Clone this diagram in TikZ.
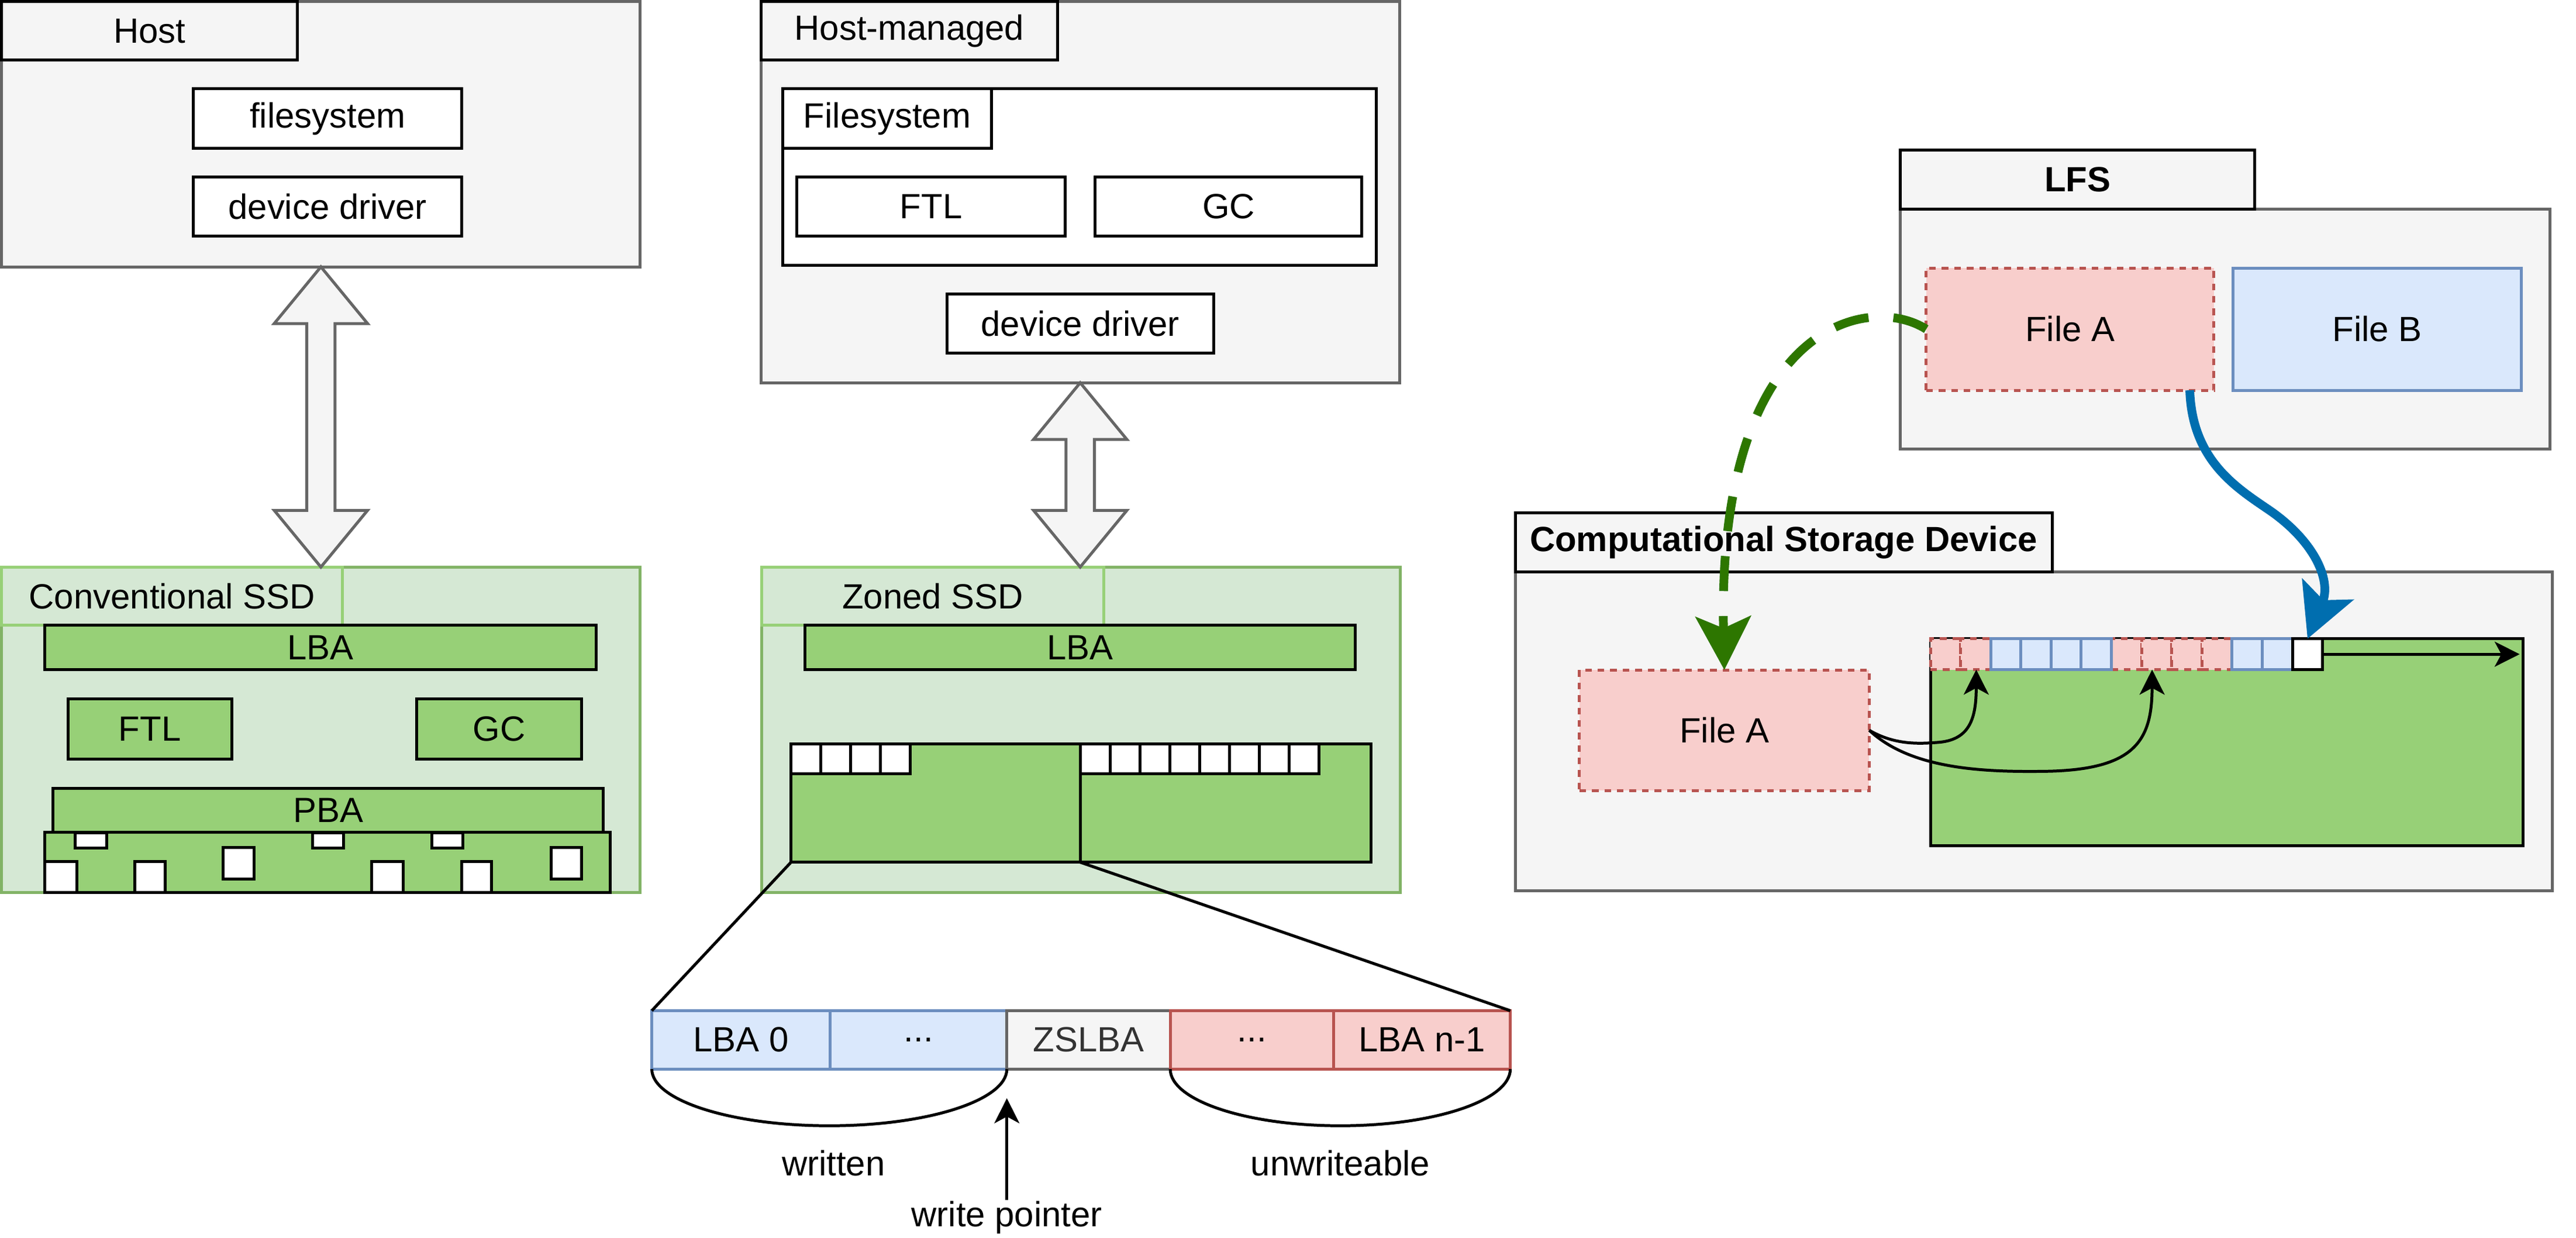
\documentclass[tikz,border=0pt]{standalone}
\usepackage{fontspec}
\setmainfont{Liberation Sans}
\usetikzlibrary{arrows.meta,calc}
\definecolor{grayF}{HTML}{F5F5F5}
\definecolor{grayS}{HTML}{666666}
\definecolor{gL}{HTML}{D5E8D4}
\definecolor{gS}{HTML}{82B366}
\definecolor{gB}{HTML}{97D077}
\definecolor{bF}{HTML}{DAE8FC}
\definecolor{bS}{HTML}{6C8EBF}
\definecolor{rF}{HTML}{F8CECC}
\definecolor{rS}{HTML}{B85450}
\definecolor{dgreen}{HTML}{2D7600}
\definecolor{dblue}{HTML}{006EAF}
\definecolor{txtg}{HTML}{333333}
\newcommand\mybox[7]{%
  \pgfmathsetmacro\mbw{#4-(#2)}%
  \pgfmathsetmacro\mbh{#5-(#3)}%
  \node[#6,anchor=north west,minimum width=\mbw pt,minimum height=\mbh pt,inner sep=0pt,outer sep=0pt] (#1) at (#2,#3) {#7};%
}
\newcommand\dblarrow[3]{%
  \draw[dblarr] (#1,#2) -- ++(28,34) -- ++(-19.5,0) -- (#1+8.5,#3-34) -- ++(19.5,0)
    -- (#1,#3) -- ++(-28,-34) -- ++(19.5,0) -- (#1-8.5,#2+34) -- ++(-19.5,0) -- cycle;}
\begin{document}
\begin{tikzpicture}[x=1pt,y=-1pt,line width=1.75pt,
  every node/.style={font=\fontsize{21}{25}\selectfont},
  graybox/.style={fill=grayF,draw=grayS},
  tabbox/.style={fill=grayF,draw=black},
  wbox/.style={fill=white,draw=black},
  gblock/.style={fill=gB,draw=black},
  ssdbox/.style={fill=gL,draw=gS},
  ssdtab/.style={fill=gL,draw=gB},
  bcell/.style={fill=bF,draw=bS},
  rcell/.style={fill=rF,draw=rS},
  rdash/.style={fill=rF,draw=rS,dash pattern=on 4pt off 3.5pt},
  dblarr/.style={fill=grayF,draw=grayS,line join=miter},
  conn/.style={draw=black,line width=1.75pt},
  sarrow/.style={-{Stealth[length=15pt,width=15pt,inset=4pt]}},
  bigtip/.style={-{Stealth[length=32pt,width=33pt,inset=7pt]},line width=5.25pt}
]
\useasboundingbox[fill=white] (0,0) rectangle (1545.3,742);

% ---------- Host ----------
\mybox{host}{1}{1}{384}{160}{graybox}{}
\mybox{hosttab}{1}{1}{178.5}{36}{tabbox}{Host}
\mybox{fs}{116}{53.3}{277}{89}{wbox}{filesystem}
\mybox{dd}{116}{106}{277}{141.6}{wbox}{device driver}

% ---------- Host-managed ----------
\mybox{hm}{456.5}{1}{839.5}{229.5}{graybox}{}
\mybox{hmtab}{456.5}{1}{634.5}{36}{tabbox}{Host-managed}
\mybox{fsc}{469.5}{53.3}{825.7}{159}{wbox}{}
\mybox{fstab}{469.5}{53.3}{594.8}{89}{wbox}{Filesystem}
\mybox{ftlh}{478}{106}{639}{141.6}{wbox}{FTL}
\mybox{gch}{657}{106}{817}{141.6}{wbox}{GC}
\mybox{dd2}{568}{176.3}{728}{211.8}{wbox}{device driver}

% ---------- Conventional SSD ----------
\mybox{conv}{1}{340}{384}{535}{ssdbox}{}
\mybox{convtab}{1}{340}{205.5}{375}{ssdtab}{Conventional SSD}
\mybox{lba1}{27}{375}{357.5}{401.5}{gblock}{LBA}
\mybox{ftl1}{40.75}{419}{139}{455}{gblock}{FTL}
\mybox{gc1}{250}{419}{349}{455}{gblock}{GC}
\mybox{pba}{31.75}{472.6}{362}{499}{gblock}{PBA}
\mybox{blk}{27}{499}{366}{535}{gblock}{}
\foreach \a/\b/\c/\d [count=\k] in {45/499.5/64/508.6,187.5/499.5/206/508.6,259/499.5/277.5/508.6,
  134/508/152.5/527,330.5/508/349/527,
  27/516.7/46/535,81/516.7/99/535,223/516.7/242/535,277/516.7/295/535}
  {\mybox{sq\k}{\a}{\b}{\c}{\d}{wbox}{}}

% ---------- Zoned SSD ----------
\mybox{zon}{457}{340}{840}{535}{ssdbox}{}
\mybox{zontab}{457}{340}{662}{375}{ssdtab}{Zoned SSD}
\mybox{lba2}{483}{375}{813}{401.5}{gblock}{LBA}
\mybox{zl}{474.5}{446}{648}{517}{gblock}{}
\mybox{zr}{648}{446}{822.5}{517}{gblock}{}
\foreach \i in {0,...,3}
  {\mybox{zc\i}{474.5+\i*17.9}{446}{492.4+\i*17.9}{464}{wbox}{}}
\foreach \i in {0,...,7}
  {\mybox{zd\i}{648+\i*17.9}{446}{665.9+\i*17.9}{464}{wbox}{}}

% ---------- zone LBA row ----------
\mybox{l0}{391}{606}{498}{641}{bcell}{LBA 0}
\mybox{l1}{498}{606}{604}{641}{bcell}{...}
\mybox{zs}{604}{606}{702}{641}{graybox,text=txtg}{ZSLBA}
\mybox{l3}{702}{606}{800}{641}{rcell}{...}
\mybox{ln}{800}{606}{906}{641}{rcell}{LBA n-1}
\draw[conn] (zl.south west) -- (l0.north west);
\draw[conn] (zl.south east) -- (ln.north east);
\coordinate (wb) at (497.5,675);
\coordinate (ub) at (804,675);
\draw[conn] (l0.south west) .. controls (391,659.8) and (438.7,675) .. (wb)
  .. controls (556.3,675) and (604,659.8) .. (l1.south east);
\draw[conn] (l3.south west) .. controls (702,659.8) and (747.7,675) .. (ub)
  .. controls (860.3,675) and (906,659.8) .. (ln.south east);
\node[anchor=base] (wr) at (500,705) {written};
\node[anchor=base] (uw) at (804,705) {unwriteable};
\node[anchor=base,inner sep=0pt] (wp) at (604,735.5) {write pointer};
\coordinate (wptip) at (604,658.5);
\draw[conn,sarrow] (wp.north) -- (wptip);

% ---------- double arrows ----------
\dblarrow{192.5}{160}{340}
\dblarrow{648}{229.5}{340}

% ---------- LFS ----------
\mybox{lfs}{1140}{125.4}{1529.5}{269.3}{graybox}{}
\mybox{lfstab}{1140}{90}{1352.6}{125.4}{tabbox}{\bfseries LFS}
\mybox{fa1}{1155.5}{160.7}{1328}{234}{rdash}{File A}
\mybox{fb}{1339.6}{160.7}{1512.6}{234}{bcell}{File B}

% ---------- Computational Storage Device ----------
\mybox{csd}{909}{343}{1531}{534}{graybox}{}
\mybox{csdtab}{909}{307.5}{1231}{343}{tabbox}{\bfseries Computational Storage Device}
\mybox{fa2}{947.5}{401.7}{1121.3}{474}{rdash}{File A}
\mybox{blk2}{1158}{383}{1513.4}{507}{gblock}{}
\foreach \i in {0,1,6,7,8,9}
  {\mybox{c\i}{1158+\i*18.1}{383}{1176.1+\i*18.1}{401.5}{rdash}{}}
\foreach \i in {2,3,4,5,10,11}
  {\mybox{c\i}{1158+\i*18.1}{383}{1176.1+\i*18.1}{401.5}{bcell}{}}
\mybox{wcell}{1375.2}{383}{1393.3}{401.5}{wbox}{}
\coordinate (wend) at (1511.5,392.25);
\draw[conn,sarrow] (wcell.east) -- (wend);
\coordinate (t1) at (1185.5,401.5);
\coordinate (t2) at (1291,401.5);
\draw[conn,sarrow] (fa2.east) .. controls (1137,447) and (1152,446) .. (1164,445)
  .. controls (1182,443) and (1185.5,430) .. (t1);
\draw[conn,sarrow] (fa2.east) .. controls (1145,460) and (1185,463) .. (1225,462.5)
  .. controls (1280,462) and (1291,445) .. (t2);

% ---------- big curved arrows ----------
\draw[color=dgreen,bigtip,dash pattern=on 21pt off 15pt] (fa1.west)
  .. controls (1120,175) and (1030,195) .. (fa2.north);
\draw[color=dblue,bigtip] ($(fa1.south east)+(-14.4,0)$)
  .. controls (1315,275) and (1340,291.4) .. (1360,305)
  .. controls (1387,323) and (1399,347) .. (wcell.north);
\end{tikzpicture}
\end{document}
